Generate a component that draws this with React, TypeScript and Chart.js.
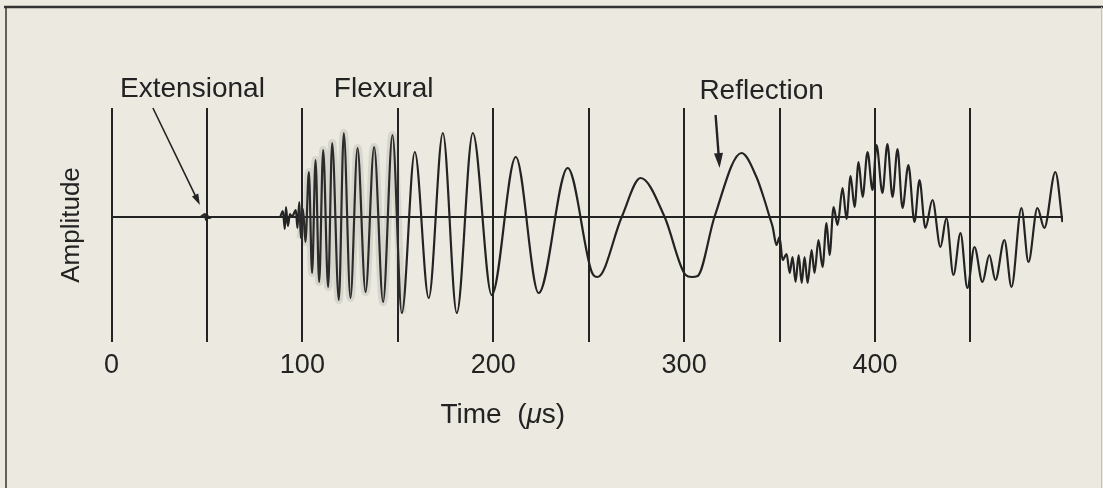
import React, { useEffect, useRef } from 'react';
import { Chart, registerables } from 'chart.js';

Chart.register(...registerables);

// Time (microseconds) of each sampled point of the trace
const timeUs = [
  0, 46.3, 49, 49.5, 50, 51, 52.6, 88.2, 89.8, 90.8, 91.4, 92.4, 93.5, 94.5,
  96.6, 97.4, 98.4, 99.2, 100.3, 101.6, 103.4, 105.1, 106.9, 108.8, 110.9,
  113.5, 115.6, 119.1, 121.7, 125.2, 128.9, 133.1, 137.6, 142.3, 147.2, 152.1,
  158.9, 166.2, 173.6, 180.9, 189.3, 199.2, 211.8, 223.8, 239.0, 251.6, 254.7,
  267.3, 277.2, 289.8, 300.8, 304.0, 307.1, 315.9, 330.1, 337.9, 342.1, 344.8,
  346.4, 348.4, 350.0, 351.6, 353.7, 355.3, 356.8, 358.4, 360.0, 361.6, 363.1,
  364.7, 366.8, 368.3, 370.4, 372.5, 374.6, 376.2, 378.3, 380.4, 383.0, 385.1,
  387.2, 389.3, 391.4, 393.5, 396.1, 398.7, 400.8, 403.9, 406.5, 409.2, 411.8,
  414.4, 417.5, 420.7, 423.3, 426.4, 430.1, 434.3, 437.4, 441.1, 444.8, 448.4,
  452.1, 456.3, 459.9, 463.1, 467.8, 471.5, 476.7, 480.4, 485.1, 488.7, 494.5,
  498.2,
];

// Amplitude (arbitrary units) at each of the times above
const amplitude = [
  0, 0, 3, -3, 2, -1, 0, 0, 6, -12, 10, -9, 3, 0,
  7, -11, 15, -21, 8, -25, 45, -56, 57, -65, 67,
  -70, 74, -83, 84, -81, 69, -75, 70, -85, 82, -96,
  65, -81, 84, -96, 84, -78, 60, -76, 49, -55, -60,
  0, 39, 0, -58, -60, -59, 0, 64, 40, 17, 0,
  -10, -28, -20, -43, -37, -56, -40, -65, -38, -66, -40,
  -66, -33, -56, -23, -50, -6, -38, 10, -8, 29, -2,
  41, 10, 55, 20, 65, 27, 72, 24, 73, 20, 68,
  9, 52, -5, 37, -11, 17, -30, -1, -58, -16, -71,
  -30, -65, -38, -63, -23, -70, 9, -45, 9, -11, 45,
  -5,
];

// Baseline (zero amplitude) from start to end of record
const baselineTimes = [0, 498.5];
const baselineAmps = [0, 0];

// Vertical grid lines and labelled ticks
const gridTimes = [0, 50, 100, 150, 200, 250, 300, 350, 400, 450];
const xTickLabels = ['0', '100', '200', '300', '400'];
const yTitle = 'Amplitude';

// x-axis title pieces (the μ is italic in the original)
const xTitleParts = ['Time  (', 'μ', 's)'];
const xTitleAt = [205, -198]; // (time, amplitude) of the title centre

// Smeared (double-printed) part of the record
const smearRange = [99, 154];

// Wave-arrival annotations
const noteTexts = ['Extensional', 'Flexural', 'Reflection'];
const noteTimes = [4.5, 116.5, 308];
const noteAmps = [120, 120, 118];

// Arrows: from (time, amp) to (time, amp)
const arrowFromTimes = [21.7, 316.5];
const arrowFromAmps = [109, 102];
const arrowToTimes = [46.3, 318.6];
const arrowToAmps = [12, 49];

const INK = '#232323';
const PAPER = '#ECEAE0';
const FONT = "'Liberation Sans', Arial, Helvetica, sans-serif";

const framePlugin = {
  id: 'frame',
  beforeDraw(chart: any) {
    const { ctx, width, height } = chart;
    ctx.save();
    ctx.fillStyle = PAPER;
    ctx.fillRect(0, 0, width, height);
    ctx.strokeStyle = '#333';
    ctx.lineWidth = 2.5;
    ctx.beginPath();
    ctx.moveTo(4, 7);
    ctx.lineTo(width, 7);
    ctx.stroke();
    ctx.lineWidth = 1.5;
    ctx.beginPath();
    ctx.moveTo(6, 7);
    ctx.lineTo(6, height);
    ctx.stroke();
    ctx.strokeStyle = '#c4c2b8';
    ctx.lineWidth = 1;
    ctx.beginPath();
    ctx.moveTo(1101.5, 7);
    ctx.lineTo(1101.5, height);
    ctx.stroke();
    ctx.restore();
  },
};

const notesPlugin = {
  id: 'notes',
  afterDraw(chart: any) {
    const { ctx } = chart;
    const xs = chart.scales.x;
    const ys = chart.scales.y;
    ctx.save();
    ctx.fillStyle = INK;
    ctx.font = `28px ${FONT}`;
    ctx.textAlign = 'left';
    ctx.textBaseline = 'alphabetic';
    noteTexts.forEach((t, i) => {
      ctx.fillText(t, xs.getPixelForValue(noteTimes[i]), ys.getPixelForValue(noteAmps[i]));
    });

    // x-axis title with italic mu
    const fonts = [`28px ${FONT}`, `italic 28px ${FONT}`, `28px ${FONT}`];
    let total = 0;
    const widths = xTitleParts.map((p, i) => {
      ctx.font = fonts[i];
      const w = ctx.measureText(p).width;
      total += w;
      return w;
    });
    let tx = xs.getPixelForValue(xTitleAt[0]) - total / 2;
    const ty = ys.getPixelForValue(xTitleAt[1]);
    ctx.textBaseline = 'middle';
    xTitleParts.forEach((p, i) => {
      ctx.font = fonts[i];
      ctx.fillText(p, tx, ty);
      tx += widths[i];
    });

    ctx.strokeStyle = INK;
    arrowFromTimes.forEach((_, i) => {
      const x1 = xs.getPixelForValue(arrowFromTimes[i]);
      const y1 = ys.getPixelForValue(arrowFromAmps[i]);
      const x2 = xs.getPixelForValue(arrowToTimes[i]);
      const y2 = ys.getPixelForValue(arrowToAmps[i]);
      const ang = Math.atan2(y2 - y1, x2 - x1);
      const headLen = i === 0 ? 11 : 15;
      const headW = i === 0 ? 3.5 : 4.5;
      ctx.lineWidth = i === 0 ? 1.6 : 2.4;
      ctx.beginPath();
      ctx.moveTo(x1, y1);
      ctx.lineTo(x2 - Math.cos(ang) * headLen * 0.8, y2 - Math.sin(ang) * headLen * 0.8);
      ctx.stroke();
      ctx.beginPath();
      ctx.moveTo(x2, y2);
      ctx.lineTo(
        x2 - Math.cos(ang) * headLen - Math.sin(ang) * headW,
        y2 - Math.sin(ang) * headLen + Math.cos(ang) * headW
      );
      ctx.lineTo(
        x2 - Math.cos(ang) * headLen + Math.sin(ang) * headW,
        y2 - Math.sin(ang) * headLen - Math.cos(ang) * headW
      );
      ctx.closePath();
      ctx.fillStyle = INK;
      ctx.fill();
    });
    ctx.restore();
  },
};

export default function App() {
  const ref = useRef<HTMLCanvasElement | null>(null);

  useEffect(() => {
    if (!ref.current) return;
    const trace = timeUs.map((t, i) => ({ x: t, y: amplitude[i] }));
    const smear = trace.filter((p) => p.x >= smearRange[0] && p.x <= smearRange[1]);
    const base = baselineTimes.map((t, i) => ({ x: t, y: baselineAmps[i] }));
    const chart = new Chart(ref.current, {
      type: 'line',
      data: {
        datasets: [
          {
            data: smear,
            borderColor: 'rgba(90,90,90,0.14)',
            borderWidth: 8,
            pointRadius: 0,
            cubicInterpolationMode: 'monotone',
          },
          {
            data: base,
            borderColor: INK,
            borderWidth: 2,
            pointRadius: 0,
            tension: 0,
          },
          {
            data: trace,
            borderColor: INK,
            borderWidth: 2.2,
            pointRadius: 0,
            cubicInterpolationMode: 'monotone',
          },
        ],
      },
      options: {
        animation: false,
        responsive: false,
        devicePixelRatio: 1,
        events: [],
        layout: { padding: { top: 108, right: 40, bottom: 0, left: 0 } },
        plugins: {
          legend: { display: false },
          tooltip: { enabled: false },
          title: { display: false },
        },
        scales: {
          x: {
            type: 'linear',
            min: 0,
            max: 498.5,
            border: { display: false },
            grid: { color: INK, lineWidth: 2, drawTicks: false },
            afterBuildTicks: (s: any) => {
              s.ticks = gridTimes.map((v) => ({ value: v }));
            },
            ticks: {
              autoSkip: false,
              maxRotation: 0,
              padding: 7,
              color: INK,
              font: { family: FONT, size: 27 },
              callback: (v: any) => {
                const s = String(v);
                return xTickLabels.includes(s) ? s : '';
              },
            },
            title: { display: false },
            afterFit: (s: any) => {
              s.height = 146;
            },
          },
          y: {
            type: 'linear',
            min: -125,
            max: 109,
            border: { display: false },
            grid: { display: false },
            ticks: { display: false },
            title: {
              display: true,
              text: yTitle,
              color: INK,
              font: { family: FONT, size: 26 },
              padding: { top: 56, bottom: 0 },
            },
            afterFit: (s: any) => {
              s.width = 111.5;
            },
          },
        },
      },
      plugins: [framePlugin, notesPlugin],
    });
    return () => chart.destroy();
  }, []);

  return (
    <div style={{ position: 'fixed', left: 0, top: 0, width: 1103, height: 488, background: PAPER }}>
      <canvas ref={ref} width={1103} height={488} style={{ display: 'block' }} />
    </div>
  );
}
